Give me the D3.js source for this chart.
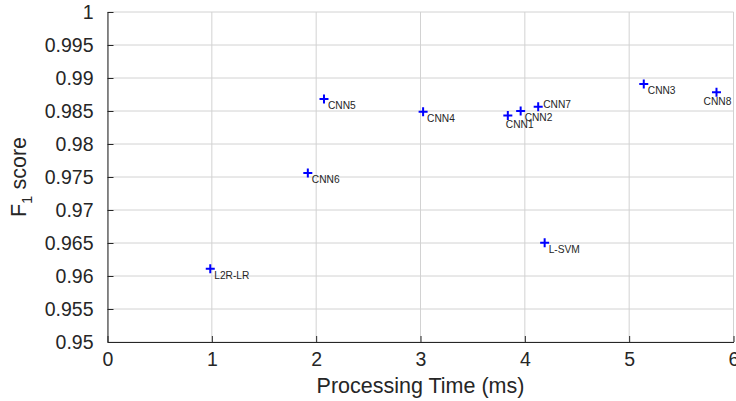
<!DOCTYPE html>
<html>
<head>
<meta charset="utf-8">
<script src="https://cdn.jsdelivr.net/npm/d3@7"></script>
<style>
  body { margin: 0; background: #fff; }
  svg { font-family: "Liberation Sans", Arial, Helvetica, sans-serif; display: block; }
</style>
</head>
<body>
<div id="chart"></div>
<script>
// data
var models = ["L2R-LR", "CNN6", "CNN5", "CNN4", "CNN1", "CNN2", "CNN7", "L-SVM", "CNN3", "CNN8"];
var times = [0.985, 1.92, 2.075, 3.025, 3.837, 3.96, 4.128, 4.19, 5.14, 5.837];
var scores = [0.9611, 0.9756, 0.9868, 0.9849, 0.9843, 0.9850, 0.98565, 0.96505, 0.98909, 0.98783];
// where each label sits relative to its marker
var labelPos = ["se", "se", "se", "se", "s", "se", "e", "se", "se", "sc"];

var xTicks = [0, 1, 2, 3, 4, 5, 6];
var yTicks = [0.95, 0.955, 0.96, 0.965, 0.97, 0.975, 0.98, 0.985, 0.99, 0.995, 1];

var data = models.map(function (m, i) {
  return { name: m, t: times[i], f: scores[i], pos: labelPos[i] };
});

var margin = { top: 12, right: 2.5, bottom: 59, left: 107.5 },
  W = 736, H = 401,
  width = W - margin.left - margin.right,
  height = H - margin.top - margin.bottom;

var svg = d3.select("#chart").append("svg")
  .attr("width", W)
  .attr("height", H);

var g = svg.append("g")
  .attr("transform", "translate(" + margin.left + "," + margin.top + ")");

var x = d3.scaleLinear().domain([0, 6]).range([0, width]);
var y = d3.scaleLinear().domain([0.95, 1]).range([height, 0]);

// grid
g.append("g")
  .selectAll("line")
  .data(xTicks)
  .join("line")
  .attr("x1", d => x(d)).attr("x2", d => x(d))
  .attr("y1", 0).attr("y2", height)
  .attr("stroke", "#d2d2d2");

g.append("g")
  .selectAll("line")
  .data(yTicks)
  .join("line")
  .attr("x1", 0).attr("x2", width)
  .attr("y1", d => y(d)).attr("y2", d => y(d))
  .attr("stroke", "#d2d2d2");

// axes
var xAxis = g.append("g")
  .attr("transform", "translate(0," + height + ")")
  .call(d3.axisBottom(x).tickValues(xTicks).tickFormat(d3.format("d")).tickSizeInner(-6).tickSizeOuter(0).tickPadding(10));

var yAxis = g.append("g")
  .call(d3.axisLeft(y).tickValues(yTicks).tickFormat(d => +d.toFixed(3)).tickSizeInner(-6).tickSizeOuter(0).tickPadding(14));

[xAxis, yAxis].forEach(function (a) {
  a.select(".domain").attr("stroke", "#262626");
  a.selectAll(".tick line").attr("stroke", "#262626");
  a.selectAll("text").attr("fill", "#262626").style("font-size", "19.5px").style("font-family", null);
});

// axis titles
svg.append("text")
  .attr("x", margin.left + x(3))
  .attr("y", 393)
  .attr("text-anchor", "middle")
  .attr("fill", "#262626")
  .style("font-size", "21.5px")
  .text("Processing Time (ms)");

var yl = svg.append("text")
  .attr("transform", "translate(26," + 177 + ") rotate(-90)")
  .attr("text-anchor", "middle")
  .attr("fill", "#262626")
  .style("font-size", "21.5px");
yl.append("tspan").text("F");
yl.append("tspan").attr("dy", 6).style("font-size", "15px").text("1");
yl.append("tspan").attr("dy", -6).text(" score");

// markers
var pts = g.append("g")
  .selectAll("g")
  .data(data)
  .join("g")
  .attr("transform", d => "translate(" + x(d.t) + "," + y(d.f) + ")");

pts.append("path")
  .attr("d", "M-4.5,0H4.5M0,-4.5V4.5")
  .attr("stroke", "#0000ff")
  .attr("stroke-width", 2)
  .attr("fill", "none");

var off = {
  se: { dx: 4, dy: 10, anchor: "start" },
  s: { dx: -2, dy: 12, anchor: "start" },
  sc: { dx: 1, dy: 13, anchor: "middle" },
  e: { dx: 5, dy: 1, anchor: "start" }
};

pts.append("text")
  .attr("x", d => off[d.pos].dx)
  .attr("y", d => off[d.pos].dy)
  .attr("text-anchor", d => off[d.pos].anchor)
  .attr("fill", "#262626")
  .style("font-size", "10.2px")
  .text(d => d.name);
</script>
</body>
</html>
